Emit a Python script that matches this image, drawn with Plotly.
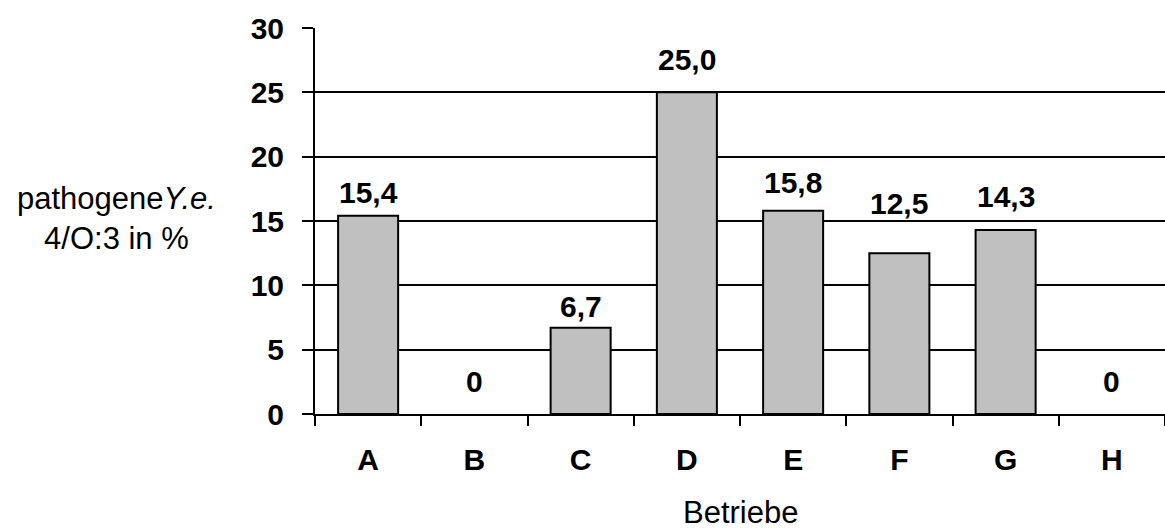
import plotly.graph_objects as go

# Anteil pathogener Y.e. 4/O:3 je Betrieb (in %)
betriebe = ["A", "B", "C", "D", "E", "F", "G", "H"]
anteil = [15.4, 0, 6.7, 25.0, 15.8, 12.5, 14.3, 0]
y_ticks = [0, 5, 10, 15, 20, 25, 30]

# Abstand der Wertebeschriftung über dem Balken (Pixel)
label_abstand = [21, 31, 19, 31, 26, 48, 32, 31]

FONT = "Liberation Sans, Arial, sans-serif"
BOLD = dict(family=FONT, size=30, color="black", weight="bold")
REGULAR = dict(family=FONT, size=31, color="black")


def fmt(v):
    # deutsche Schreibweise mit Dezimalkomma, Null ohne Nachkommastelle
    return "0" if v == 0 else f"{v:.1f}".replace(".", ",")


fig = go.Figure(
    go.Bar(
        x=betriebe,
        y=anteil,
        marker=dict(
            color="#C0C0C0",
            line=dict(color="black", width=[0 if v == 0 else 2 for v in anteil]),
        ),
        hoverinfo="x+y",
    )
)

# Wertebeschriftungen über den Balken
for b, v, d in zip(betriebe, anteil, label_abstand):
    fig.add_annotation(
        x=b, y=v, xref="x", yref="y",
        text=fmt(v),
        showarrow=False,
        xanchor="center", yanchor="middle",
        yshift=d + 2,
        font=BOLD,
    )

fig.update_layout(
    width=1165,
    height=529,
    margin=dict(l=315, r=0, t=28, b=115),
    plot_bgcolor="white",
    paper_bgcolor="white",
    bargap=0.435,
    showlegend=False,
    font=dict(family=FONT, color="black"),
)

fig.update_xaxes(
    type="category",
    tickson="boundaries",
    ticks="outside",
    ticklen=10,
    tickwidth=2,
    tickcolor="black",
    showline=True,
    linecolor="black",
    linewidth=2,
    showgrid=False,
    tickfont=BOLD,
    ticklabelstandoff=18,
)

fig.update_yaxes(
    range=[0, 30],
    tickvals=y_ticks,
    ticks="outside",
    ticklen=11,
    tickwidth=2,
    tickcolor="black",
    showline=True,
    linecolor="black",
    linewidth=2,
    showgrid=True,
    gridcolor="black",
    gridwidth=2,
    zeroline=False,
    tickfont=BOLD,
    ticklabelstandoff=12,
)

# Achsentitel
fig.add_annotation(
    text="pathogene<i>Y.e.</i><br>4/O:3 in %",
    xref="paper", yref="paper",
    x=-0.233, y=0.506,
    xanchor="center", yanchor="middle",
    showarrow=False,
    align="center",
    font=REGULAR,
)
fig.add_annotation(
    text="Betriebe",
    xref="paper", yref="paper",
    x=0.5, y=-0.255,
    xanchor="center", yanchor="middle",
    showarrow=False,
    font=REGULAR,
)

fig.write_html("out.html")
